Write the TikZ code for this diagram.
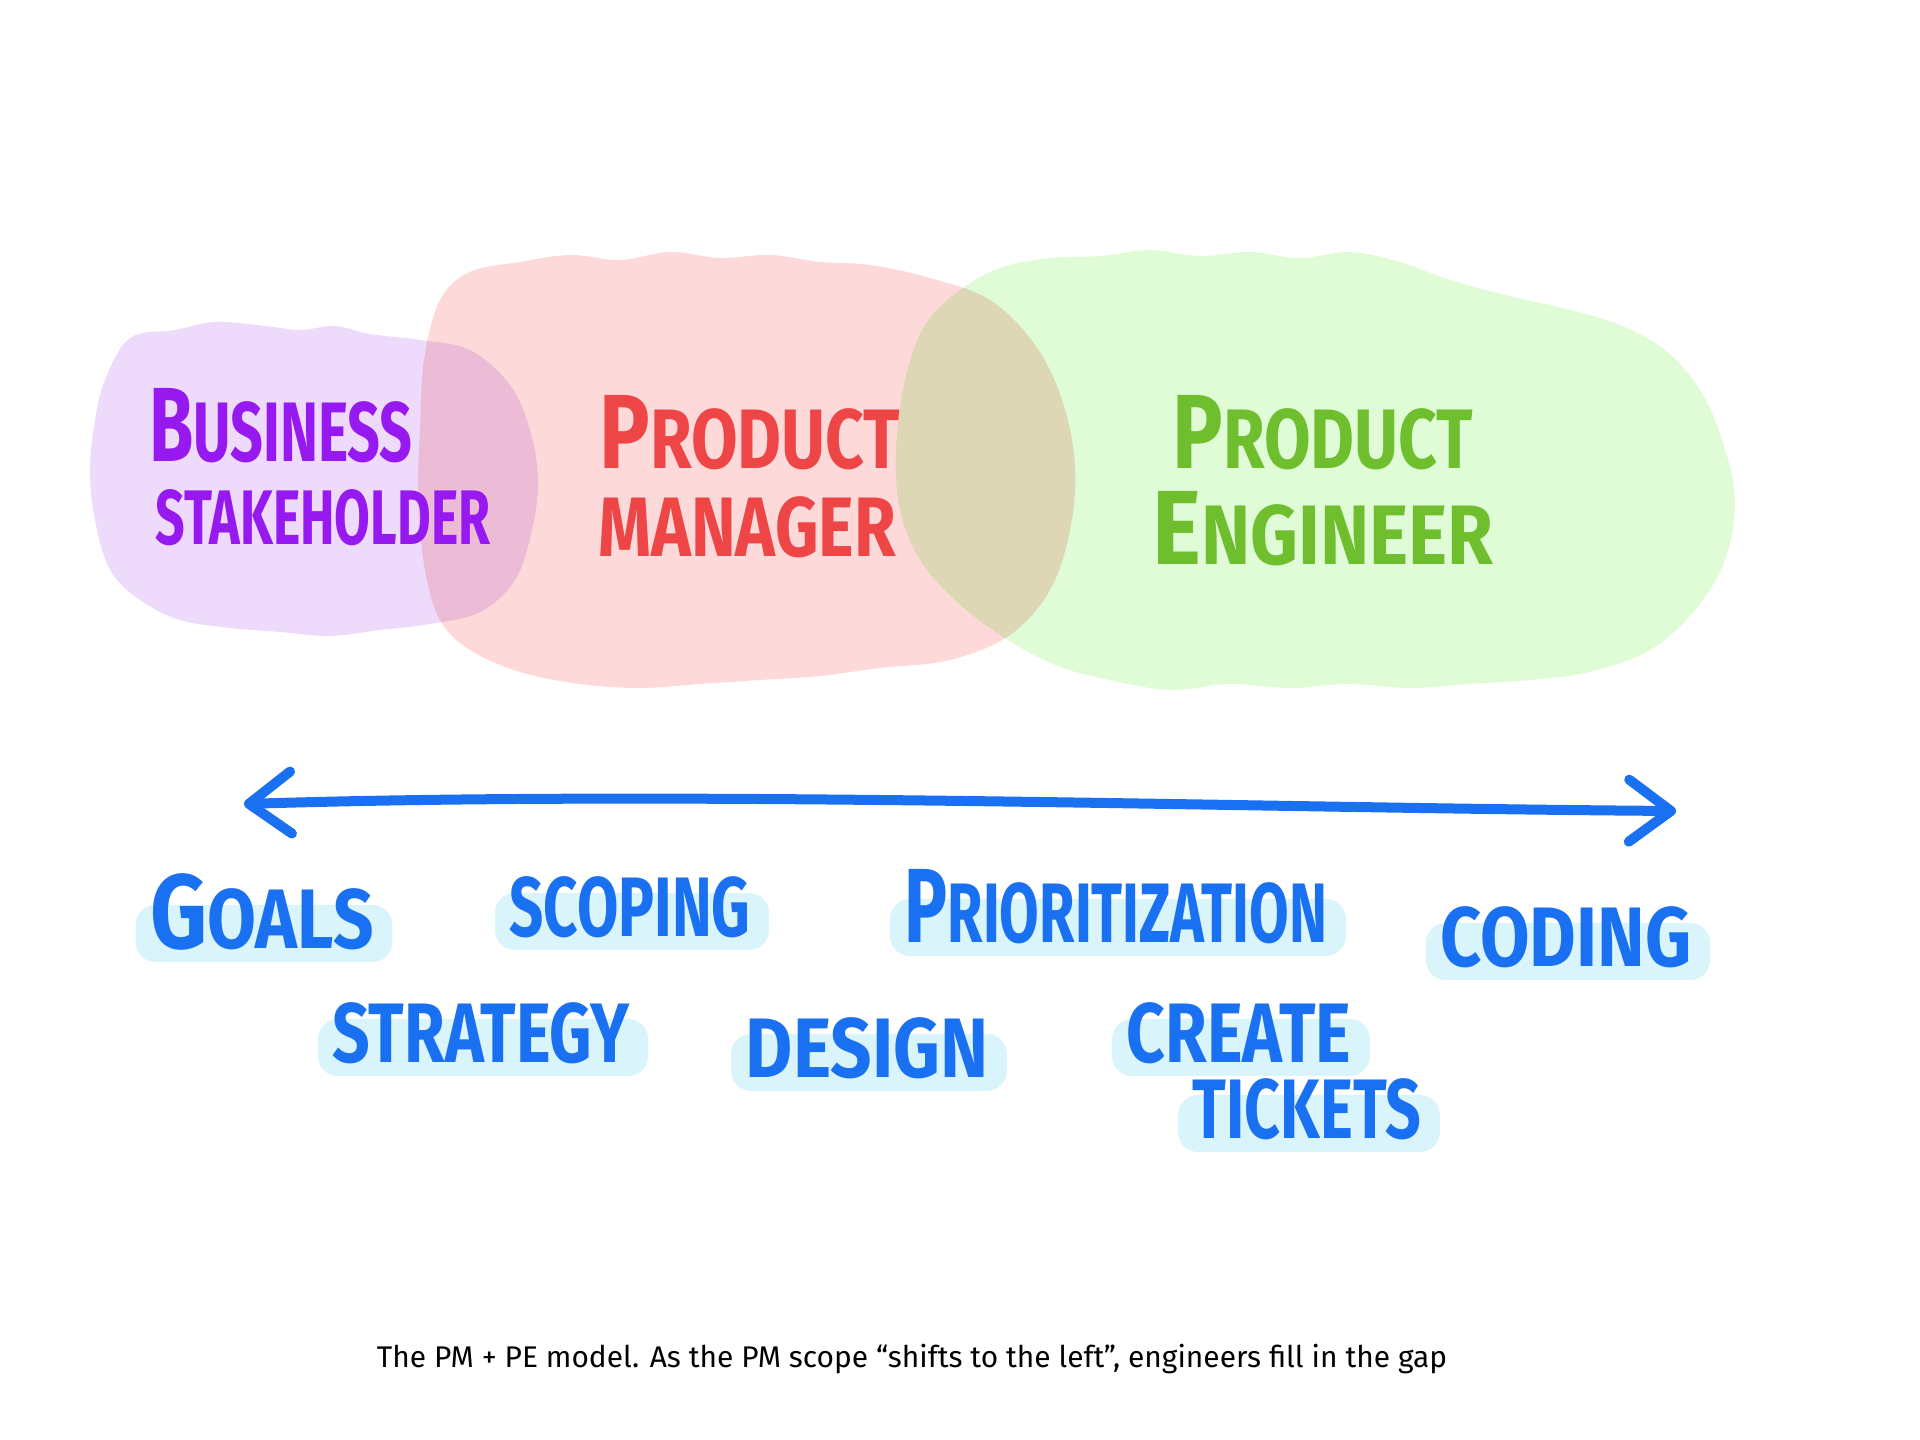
\documentclass[tikz,border=0pt]{standalone}
\usepackage{fontspec}
\setmainfont{Fira Sans}
\usetikzlibrary{positioning, arrows.meta, backgrounds, calc}

\definecolor{bizfill}{RGB}{238,219,251}
\definecolor{pmfill}{RGB}{253,218,217}
\definecolor{pefill}{RGB}{224,252,214}
\definecolor{bizink}{RGB}{150,25,240}
\definecolor{pmink}{RGB}{238,70,70}
\definecolor{peink}{RGB}{110,190,45}
\definecolor{inkblue}{RGB}{25,112,240}
\definecolor{markcyan}{RGB}{218,244,252}

\newcommand{\squish}[2]{\scalebox{#1}[1]{#2}}
\newcommand{\firstcap}[1]{{\fontsize{30}{30}\selectfont #1}}

\begin{document}
\begin{tikzpicture}[
  x=0.01cm, y=-0.01cm,
  blob/.style={fill=#1, blend mode=multiply},
  scrawl/.style={font=\bfseries\fontsize{24}{24}\selectfont, text=#1,
                 inner sep=0pt, anchor=base},
  hilite/.style={fill=markcyan, rounded corners=0.2cm},
  scalebar/.style={draw=inkblue, line width=0.1cm, line cap=round,
                   {Straight Barb[length=0.42cm, width=0.62cm, line cap=round, line join=round]}-{Straight Barb[length=0.42cm, width=0.62cm, line cap=round, line join=round]}},
  caption/.style={font=\fontsize{8.5}{10}\selectfont, inner sep=0pt}
]
\useasboundingbox (0,0) rectangle (1920,1440);

% ==================== ROLE BLOBS ====================
\fill[blob=bizfill] plot[smooth cycle, tension=0.6] coordinates {
  (105,380) (130,338) (175,330) (215,322) (265,326) (300,330) (335,326)
  (370,334) (420,340) (470,350) (510,385) (530,430) (538,480) (532,530)
  (515,580) (480,612) (430,624) (380,630) (330,636) (280,632) (230,628)
  (180,620) (140,600) (110,570) (95,520) (90,470) (95,420)};

\fill[blob=pmfill] plot[smooth cycle, tension=0.6] coordinates {
  (440,300) (470,272) (520,262) (570,255) (620,260) (670,252) (720,258)
  (770,255) (820,262) (870,265) (930,278) (990,300) (1035,345) (1062,400)
  (1075,465) (1070,530) (1050,590) (1010,635) (950,660) (880,668) (820,676)
  (760,680) (700,684) (640,688) (580,684) (520,672) (470,650) (440,620)
  (425,570) (418,500) (420,430) (424,360)};

\fill[blob=pefill] plot[smooth cycle, tension=0.6] coordinates {
  (905,380) (925,325) (960,290) (1000,268) (1050,258) (1100,256) (1150,250)
  (1200,256) (1250,252) (1300,258) (1350,252) (1400,262) (1450,280)
  (1510,296) (1570,310) (1620,325) (1665,350) (1700,390) (1722,440)
  (1735,500) (1725,560) (1695,610) (1650,650) (1590,672) (1530,680)
  (1470,684) (1410,688) (1350,684) (1290,688) (1230,684) (1170,690)
  (1110,680) (1055,665) (1000,635) (955,600) (920,560) (900,510) (896,450)};

% ==================== ROLE NAMES ====================
\node[scrawl=bizink] (biztop) at (281,462) {\squish{0.68}{\firstcap{B}USINESS}};
\node[scrawl=bizink, font=\bfseries\fontsize{22}{22}\selectfont] (bizbot) at (323,545)
  {\squish{0.67}{STAKEHOLDER}};

\node[scrawl=pmink] (pmtop) at (750,469) {\squish{0.8}{\firstcap{P}RODUCT}};
\node[scrawl=pmink] (pmbot) at (747,557) {\squish{0.8}{MANAGER}};

\node[scrawl=peink] (petop) at (1323,469) {\squish{0.8}{\firstcap{P}RODUCT}};
\node[scrawl=peink] (pebot) at (1323,565) {\squish{0.88}{\firstcap{E}NGINEER}};

% ==================== SCALE ====================
\coordinate (scaleL) at (244,804);
\coordinate (scaleR) at (1676,811);
\draw[scalebar] (scaleL) .. controls (700,790) and (1250,808) .. (scaleR);

% ==================== ACTIVITIES ====================
\node[scrawl=inkblue] (goals)    at (262,949)  {\squish{0.84}{\firstcap{G}OALS}};
\node[scrawl=inkblue] (scoping)  at (630,937)  {\squish{0.71}{SCOPING}};
\node[scrawl=inkblue] (prio)     at (1116,943) {\squish{0.68}{\firstcap{P}RIORITIZATION}};
\node[scrawl=inkblue] (coding)   at (1566,967) {\squish{0.85}{CODING}};
\node[scrawl=inkblue] (strategy) at (481,1063) {\squish{0.78}{STRATEGY}};
\node[scrawl=inkblue] (design)   at (867,1078) {\squish{0.86}{DESIGN}};
\node[scrawl=inkblue] (create)   at (1239,1063) {\squish{0.8}{CREATE}};
\node[scrawl=inkblue] (tickets)  at (1307,1139) {\squish{0.74}{TICKETS}};

\begin{pgfonlayer}{background}
  \foreach \n in {goals, scoping, prio, coding, strategy, design, create, tickets}
    \fill[hilite] ($(\n.base west)+(-14,-44)$) rectangle ($(\n.base east)+(18,13)$);
\end{pgfonlayer}

% ==================== CAPTION ====================
\node[caption] (note) at (912,1359)
  {The PM + PE model. As the PM scope “shifts to the left”, engineers fill in the gap};

\end{tikzpicture}
\end{document}
